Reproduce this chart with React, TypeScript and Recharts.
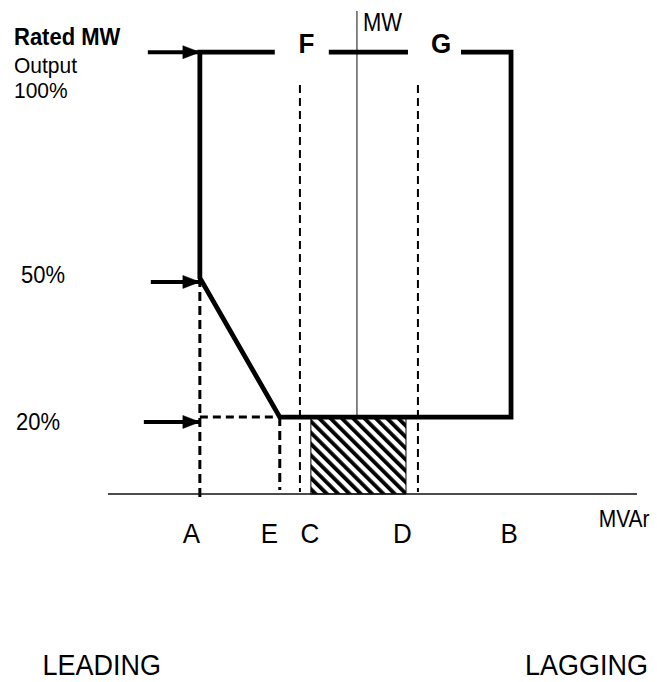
import React from 'react';
import {
  ComposedChart,
  Line,
  XAxis,
  YAxis,
  ReferenceLine,
  ReferenceArea,
  ReferenceDot,
} from 'recharts';

if (typeof document !== 'undefined') {
  document.body.style.margin = '0';
}

const FONT = '"Liberation Sans", Arial, Helvetica, sans-serif';

// ---- MW levels (schematic units on the MW axis) ----
const LEVEL_RATED = 100;
const LEVEL_50 = 48.9;
const LEVEL_20 = 17.4;
const MW_AXIS_TOP = 109.3;
const C_D_TOP = 92.6;

// ---- MVAr positions (schematic units, 0 = MW axis) ----
const X_A = -63.1;
const X_E = -31.0;
const X_C = -22.9;
const X_D = 24.5;
const X_B = 61.9;
const HATCH_LEFT = -18.5;
const HATCH_RIGHT = 19.7;

// Capability boundary
const boundaryOuter = [
  { x: -33.0, y: LEVEL_RATED },
  { x: X_A, y: LEVEL_RATED },
  { x: X_A, y: LEVEL_50 },
  { x: X_E, y: LEVEL_20 },
  { x: X_B, y: LEVEL_20 },
  { x: X_B, y: LEVEL_RATED },
  { x: 41.8, y: LEVEL_RATED },
];
const boundaryTopMid = [
  { x: -11.3, y: LEVEL_RATED },
  { x: 20.5, y: LEVEL_RATED },
];

// Arrows pointing at the levels
const arrowRated = [
  { x: -84.0, y: 100 },
  { x: X_A, y: 100 },
];
const arrow50 = [
  { x: -82.8, y: 48.0 },
  { x: X_A, y: 48.0 },
];
const arrow20 = [
  { x: -85.6, y: 16.3 },
  { x: X_A, y: 16.3 },
];

// Tick labels
const xTickLabels = ['A', 'E', 'C', 'D', 'B'];
const xTickPositions = [-66.5, -35.2, -18.9, 18.3, 61.1];
const yTickValues = [LEVEL_RATED, LEVEL_50, LEVEL_20];
const yTickLabels = [['Rated MW', 'Output', '100%'], ['50%'], ['20%']];

type STextProps = {
  x: number;
  y: number;
  text: string;
  size: number;
  bold?: boolean;
  k?: number;
  anchor?: 'start' | 'middle' | 'end';
  fill?: string;
};

function SText({ x, y, text, size, bold, k = 1, anchor = 'start', fill = '#000' }: STextProps) {
  return (
    <text
      transform={`translate(${x},${y}) scale(1,${k})`}
      x={0}
      y={0}
      fontSize={size}
      fontWeight={bold ? 'bold' : 'normal'}
      fontFamily={FONT}
      textAnchor={anchor}
      fill={fill}
    >
      {text}
    </text>
  );
}

const YTick = (props: any) => {
  const { x, y, payload } = props;
  const i = yTickValues.indexOf(payload.value);
  if (i === 0) {
    const l = yTickLabels[0];
    return (
      <g>
        <SText x={x - 94} y={y - 7} text={l[0]} size={22} bold k={1.05} />
        <SText x={x - 94} y={y + 21} text={l[1]} size={21} k={1.08} />
        <SText x={x - 94} y={y + 46} text={l[2]} size={21} k={1.08} />
      </g>
    );
  }
  if (i === 1) {
    return <SText x={x - 87} y={y + 5} text={yTickLabels[1][0]} size={22} k={1.1} />;
  }
  if (i === 2) {
    return <SText x={x - 92} y={y + 13} text={yTickLabels[2][0]} size={22} k={1.1} />;
  }
  return <g />;
};

const XTick = (props: any) => {
  const { x, y, payload } = props;
  const i = xTickPositions.indexOf(payload.value);
  if (i < 0) return <g />;
  return <SText x={x} y={y + 49} text={xTickLabels[i]} size={26} k={1.08} anchor="middle" />;
};

const arrowDot = (props: any) => {
  const { cx, cy, index } = props;
  if (index !== 1) return <g key={`ad-${index}`} />;
  const len = 17;
  const h = 6.5;
  return (
    <polygon
      key={`ad-${index}`}
      points={`${cx},${cy} ${cx - len},${cy - h} ${cx - len},${cy + h}`}
      fill="#000"
      stroke="#000"
      strokeWidth={0.5}
    />
  );
};

const textLabel =
  (text: string, size: number, opts: { bold?: boolean; k?: number; anchor?: 'start' | 'middle' | 'end' } = {}) =>
  (p: any) => {
    const vb = p.viewBox || {};
    const cx = (vb.x ?? 0) + (vb.width ?? 0) / 2;
    const cy = (vb.y ?? 0) + (vb.height ?? 0) / 2;
    return <SText x={cx} y={cy} text={text} size={size} bold={opts.bold} k={opts.k} anchor={opts.anchor} />;
  };

export default function App() {
  return (
    <ComposedChart
      width={657}
      height={682}
      margin={{ top: 8, right: 20, bottom: 0, left: 0 }}
    >
      <defs>
        <pattern
          id="hatch"
          patternUnits="userSpaceOnUse"
          width={8}
          height={8}
          patternTransform="rotate(-45)"
        >
          <rect x={0} y={0} width={8} height={8} fill="#fff" />
          <rect x={0} y={0} width={3.8} height={8} fill="#000" />
        </pattern>
      </defs>
      <XAxis
        type="number"
        dataKey="x"
        domain={[-100, 112.5]}
        ticks={xTickPositions}
        interval={0}
        height={188}
        tickSize={0}
        tickMargin={0}
        tickLine={false}
        axisLine={{ stroke: '#111', strokeWidth: 1.3 }}
        tick={<XTick />}
      />
      <YAxis
        type="number"
        dataKey="y"
        domain={[0, 110]}
        ticks={yTickValues}
        interval={0}
        width={108}
        tickSize={0}
        tickMargin={0}
        tickLine={false}
        axisLine={false}
        tick={<YTick />}
      />

      <ReferenceArea
        x1={HATCH_LEFT}
        x2={HATCH_RIGHT}
        y1={0}
        y2={LEVEL_20}
        fill="url(#hatch)"
        fillOpacity={1}
        stroke="#000"
        strokeWidth={1}
      />

      {/* MW axis */}
      <ReferenceLine
        segment={[
          { x: 0, y: LEVEL_20 },
          { x: 0, y: MW_AXIS_TOP },
        ]}
        stroke="#444"
        strokeWidth={1.3}
        ifOverflow="visible"
      />

      {/* dashed construction lines */}
      <ReferenceLine
        segment={[
          { x: X_A, y: LEVEL_50 },
          { x: X_A, y: -0.7 },
        ]}
        stroke="#000"
        strokeWidth={3}
        strokeDasharray="9 5"
        ifOverflow="visible"
      />
      <ReferenceLine
        segment={[
          { x: X_A, y: LEVEL_20 },
          { x: X_E, y: LEVEL_20 },
        ]}
        stroke="#000"
        strokeWidth={3}
        strokeDasharray="8 5"
        ifOverflow="visible"
      />
      <ReferenceLine
        segment={[
          { x: X_E, y: LEVEL_20 },
          { x: X_E, y: 0.9 },
        ]}
        stroke="#000"
        strokeWidth={3}
        strokeDasharray="9 5"
        ifOverflow="visible"
      />
      <ReferenceLine
        segment={[
          { x: X_C, y: C_D_TOP },
          { x: X_C, y: 0.45 },
        ]}
        stroke="#000"
        strokeWidth={2}
        strokeDasharray="8 5"
        ifOverflow="visible"
      />
      <ReferenceLine
        segment={[
          { x: X_D, y: C_D_TOP },
          { x: X_D, y: 0.45 },
        ]}
        stroke="#000"
        strokeWidth={2}
        strokeDasharray="8 5"
        ifOverflow="visible"
      />

      <Line
        data={boundaryOuter}
        dataKey="y"
        type="linear"
        stroke="#000"
        strokeWidth={4.8}
        dot={false}
        activeDot={false}
        isAnimationActive={false}
        strokeLinejoin="miter"
      />
      <Line
        data={boundaryTopMid}
        dataKey="y"
        type="linear"
        stroke="#000"
        strokeWidth={4.8}
        dot={false}
        activeDot={false}
        isAnimationActive={false}
      />
      <Line
        data={arrowRated}
        dataKey="y"
        type="linear"
        stroke="#000"
        strokeWidth={4}
        dot={arrowDot}
        activeDot={false}
        isAnimationActive={false}
      />
      <Line
        data={arrow50}
        dataKey="y"
        type="linear"
        stroke="#000"
        strokeWidth={4}
        dot={arrowDot}
        activeDot={false}
        isAnimationActive={false}
      />
      <Line
        data={arrow20}
        dataKey="y"
        type="linear"
        stroke="#000"
        strokeWidth={4}
        dot={arrowDot}
        activeDot={false}
        isAnimationActive={false}
      />

      <ReferenceDot x={-20.3} y={99.8} r={0} fill="none" stroke="none" ifOverflow="visible"
        label={{ content: textLabel('F', 26, { bold: true, k: 1.05, anchor: 'middle' }) }} />
      <ReferenceDot x={33.8} y={99.8} r={0} fill="none" stroke="none" ifOverflow="visible"
        label={{ content: textLabel('G', 26, { bold: true, k: 1.05, anchor: 'middle' }) }} />
      <ReferenceDot x={2.4} y={104.8} r={0} fill="none" stroke="none" ifOverflow="visible"
        label={{ content: textLabel('MW', 22, { k: 1.15 }) }} />
      <ReferenceDot x={97.1} y={-7.5} r={0} fill="none" stroke="none" ifOverflow="visible"
        label={{ content: textLabel('MVAr', 21, { k: 1.12 }) }} />
      <ReferenceDot x={-126.3} y={-41.0} r={0} fill="none" stroke="none" ifOverflow="visible"
        label={{ content: textLabel('LEADING', 27, { k: 1.12 }) }} />
      <ReferenceDot x={67.5} y={-41.0} r={0} fill="none" stroke="none" ifOverflow="visible"
        label={{ content: textLabel('LAGGING', 27, { k: 1.12 }) }} />
    </ComposedChart>
  );
}
